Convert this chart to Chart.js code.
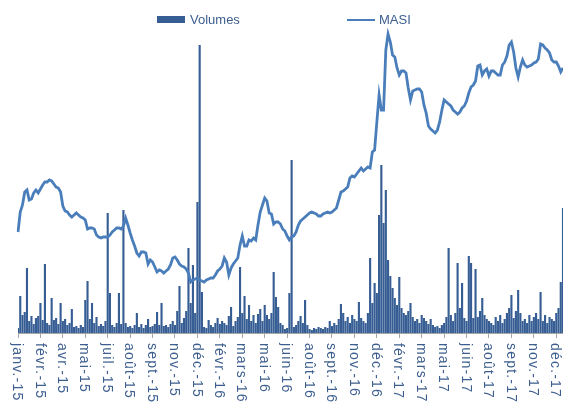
<!DOCTYPE html>
<html lang="fr">
<head>
<meta charset="utf-8">
<title>Volumes et MASI</title>
<script src="https://cdn.jsdelivr.net/npm/chart.js@4.4.1/dist/chart.umd.min.js"></script>
<style>
  html, body { margin: 0; padding: 0; background: #fff; }
  #wrap { position: relative; width: 563px; height: 407px; }
</style>
</head>
<body>
<div id="wrap"><canvas id="chart"></canvas></div>
<script>
// month labels on the x axis, one every LABEL_STEP points
const tickLabels = ['janv.-15', 'févr.-15', 'avr.-15', 'mai-15', 'juil.-15', 'août-15', 'sept.-15',
  'nov.-15', 'déc.-15', 'févr.-16', 'mars-16', 'mai-16', 'juin-16', 'août-16', 'sept.-16', 'nov.-16',
  'déc.-16', 'févr.-17', 'mars-17', 'mai-17', 'juin-17', 'août-17', 'sept.-17', 'nov.-17', 'déc.-17'];
const LABEL_STEP = 10;

// volumes (MMAD), ~3 trading days per value
const volumes = [
  100, 740, 360, 420, 1300, 240, 340, 180, 300, 340,
  600, 260, 1380, 200, 160, 700, 260, 300, 180, 600,
  240, 280, 160, 200, 480, 120, 140, 100, 160, 120,
  660, 1040, 280, 600, 200, 320, 140, 180, 140, 240,
  2400, 800, 160, 120, 200, 800, 180, 2460, 200, 120,
  140, 100, 160, 400, 120, 180, 100, 160, 280, 120,
  140, 180, 420, 160, 600, 140, 160, 120, 180, 240,
  160, 440, 940, 200, 300, 440, 1700, 600, 1360, 400,
  2620, 5760, 820, 120, 100, 260, 160, 120, 200, 300,
  180, 240, 200, 160, 340, 520, 140, 240, 320, 1320,
  400, 740, 280, 560, 240, 360, 200, 380, 480, 240,
  560, 360, 280, 400, 1220, 720, 520, 200, 160, 80,
  100, 800, 3460, 120, 160, 240, 340, 200, 660, 160,
  80, 60, 100, 80, 120, 100, 80, 120, 100, 240,
  140, 200, 160, 280, 580, 400, 240, 320, 200, 360,
  280, 240, 620, 300, 240, 200, 400, 1500, 600, 1000,
  800, 2360, 3360, 2200, 2860, 1460, 1140, 900, 700, 560,
  1120, 500, 400, 360, 440, 600, 320, 240, 280, 200,
  360, 300, 240, 180, 280, 160, 120, 140, 100, 160,
  200, 320, 1700, 360, 240, 400, 1400, 500, 1000, 300,
  240, 1540, 1400, 300, 1280, 320, 440, 700, 360, 280,
  240, 200, 160, 320, 240, 360, 200, 280, 400, 500,
  760, 300, 440, 860, 400, 240, 280, 200, 360, 240,
  320, 400, 280, 820, 240, 360, 200, 320, 280, 240,
  400, 500, 1020, 2500
];

// MASI index, same points
const masi = [
  9616, 9936, 10048, 10256, 10288, 10128, 10144, 10240, 10288, 10240,
  10304, 10368, 10416, 10416, 10448, 10432, 10384, 10336, 10320, 10256,
  10032, 9952, 9936, 9888, 9856, 9888, 9920, 9888, 9856, 9840,
  9808, 9664, 9680, 9680, 9664, 9568, 9536, 9520, 9536, 9536,
  9536, 9568, 9616, 9648, 9680, 9680, 9664, 9712, 9840, 9728,
  9600, 9488, 9392, 9280, 9232, 9296, 9296, 9280, 9104, 9168,
  9136, 9056, 8976, 9008, 8992, 8960, 8992, 9024, 9088, 9200,
  9216, 9168, 9104, 9072, 9056, 9024, 8960, 8816, 8848, 8864,
  8880, 8848, 8832, 8816, 8848, 8864, 8880, 8880, 8928, 8992,
  9024, 9072, 9200, 9136, 8928, 9040, 9104, 9152, 9200, 9408,
  9552, 9392, 9392, 9488, 9472, 9520, 9488, 9728, 9936, 10048,
  10160, 10112, 9920, 9904, 9744, 9776, 9776, 9744, 9664, 9632,
  9552, 9488, 9536, 9552, 9616, 9728, 9792, 9824, 9856, 9888,
  9920, 9936, 9920, 9904, 9872, 9872, 9904, 9920, 9936, 9920,
  9936, 9968, 10000, 10128, 10256, 10272, 10304, 10336, 10480, 10512,
  10496, 10544, 10592, 10640, 10592, 10624, 10656, 10640, 10896, 10928,
  11376, 11808, 11568, 11568, 12528, 12784, 12656, 12448, 12416, 12240,
  12128, 12192, 12192, 12160, 11920, 11728, 11872, 11888, 11904, 11904,
  11856, 11648, 11520, 11312, 11264, 11232, 11200, 11248, 11376, 11568,
  11728, 11696, 11664, 11632, 11568, 11536, 11504, 11536, 11600, 11632,
  11712, 11840, 11936, 11968, 12032, 12272, 12288, 12128, 12192, 12224,
  12112, 12192, 12192, 12160, 12128, 12128, 12288, 12336, 12432, 12608,
  12656, 12496, 12240, 12096, 12256, 12368, 12288, 12256, 12272, 12288,
  12320, 12336, 12384, 12624, 12608, 12560, 12528, 12480, 12368, 12336,
  12336, 12272, 12176, 12240
];

const barColor = '#375e94';
const lineColor = '#4a7ebb';
const textColor = '#3d5f8f';
const FONT = '"Liberation Sans", Arial, sans-serif';

const labels = volumes.map((_, i) => (i % LABEL_STEP === 0 ? tickLabels[i / LABEL_STEP] : ''));

// legend + rotated month labels (text reads top to bottom)
const customText = {
  id: 'customText',
  afterDraw(chart) {
    const ctx = chart.ctx;
    const xs = chart.scales.x;
    const ds = chart.data.datasets;
    ctx.save();
    ctx.font = '13px ' + FONT;
    ctx.textBaseline = 'middle';
    ctx.textAlign = 'left';

    // legend
    ctx.fillStyle = ds[0].backgroundColor;
    ctx.fillRect(157, 16, 28, 7);
    ctx.fillStyle = textColor;
    ctx.fillText(ds[0].label, 190, 20);
    ctx.strokeStyle = ds[1].borderColor;
    ctx.lineWidth = 2;
    ctx.beginPath();
    ctx.moveTo(347, 20);
    ctx.lineTo(375, 20);
    ctx.stroke();
    ctx.fillText(ds[1].label, 379, 20);

    // x labels
    ctx.font = '14px ' + FONT;
    ctx.letterSpacing = '1.2px';
    tickLabels.forEach((lbl, k) => {
      const x = xs.getPixelForValue(k * LABEL_STEP);
      ctx.save();
      ctx.translate(x - 1, xs.top + 10);
      ctx.rotate(Math.PI / 2);
      ctx.fillText(lbl, 0, 0);
      ctx.restore();
    });
    ctx.restore();
  }
};

new Chart(document.getElementById('chart'), {
  data: {
    labels: labels,
    datasets: [
      {
        type: 'bar',
        label: 'Volumes',
        data: volumes,
        yAxisID: 'yVol',
        backgroundColor: barColor,
        borderWidth: 0,
        barPercentage: 1,
        categoryPercentage: 0.95,
        order: 2
      },
      {
        type: 'line',
        label: 'MASI',
        data: masi,
        yAxisID: 'yMasi',
        borderColor: lineColor,
        borderWidth: 2.8,
        pointRadius: 0,
        tension: 0,
        fill: false,
        order: 1
      }
    ]
  },
  options: {
    responsive: true,
    maintainAspectRatio: false,
    animation: false,
    layout: { padding: { top: 28, left: 18, right: -3, bottom: 0 } },
    plugins: {
      legend: { display: false },
      tooltip: { enabled: false }
    },
    scales: {
      x: {
        type: 'category',
        offset: false,
        grid: {
          offset: false,
          drawOnChartArea: false,
          drawTicks: true,
          tickLength: 5,
          color: '#a6a6a6'
        },
        border: { display: true, color: '#a6a6a6' },
        ticks: {
          autoSkip: false,
          maxRotation: 0,
          padding: 0,
          font: { size: 1 },
          color: 'rgba(0,0,0,0)',
          callback: function (value, index) {
            const l = labels[index];
            return l ? l : null;
          }
        },
        afterFit: function (scale) {
          scale.height = 74;
          scale.paddingLeft = 0;
          scale.paddingRight = 0;
        }
      },
      yVol: {
        display: false,
        min: 0,
        max: 6100
      },
      yMasi: {
        display: false,
        min: 8000,
        max: 12880
      }
    }
  },
  plugins: [customText]
});
</script>
</body>
</html>
